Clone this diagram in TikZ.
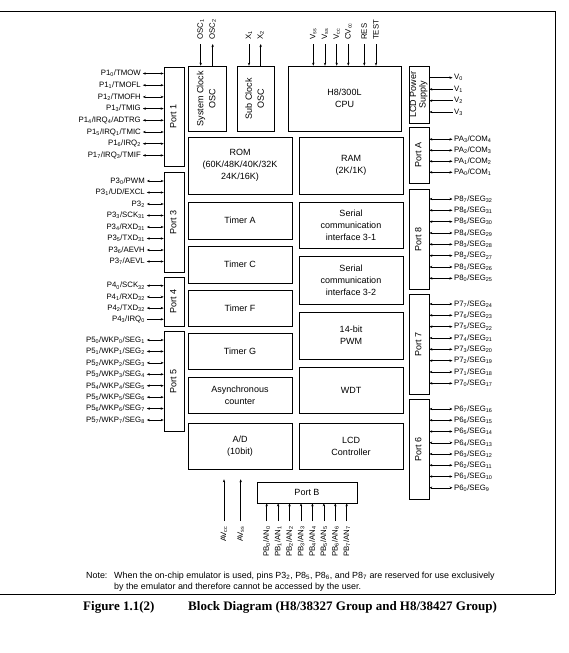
\documentclass[tikz,border=0pt]{standalone}
\usepackage{fontspec}
\usepackage{graphicx}
\setmainfont{Liberation Sans}
\newfontfamily\capfont{Liberation Serif}
\usetikzlibrary{arrows.meta}
\tikzset{
  blk/.style={draw, line width=0.6pt, inner sep=0pt, align=center, font=\fontsize{9}{12}\selectfont},
  pin/.style={font=\fontsize{7.8}{9}\selectfont, inner sep=0pt},
  bi/.style={{Stealth[length=3pt,width=2.4pt]}-{Stealth[length=3pt,width=2.4pt]}, line width=0.5pt},
  ar/.style={-{Stealth[length=3pt,width=2.4pt]}, line width=0.5pt},
  arl/.style={{Stealth[length=3pt,width=2.4pt]}-, line width=0.5pt},
  frame/.style={line width=0.8pt},
  notetext/.style={anchor=base west, inner sep=0pt, font=\fontsize{8.9}{10}\selectfont},
}
\newcommand\bx[6]{\node[blk, minimum width={(#4-#2)*1pt}, minimum height={(#5-#3)*1pt}] (#1) at ({(#2+#4)/2},{(#3+#5)/2}) {#6};}
\newcommand\rtxt[1]{\rotatebox{90}{\begin{tabular}{@{}c@{}}#1\end{tabular}}}
\newcommand\lpinx{145}
\newcommand\lpin[5][bi]{\node[pin,anchor=east] (#2) at (\lpinx,#4) {#5};\draw[#1] ([xshift=1.8pt]#2.east) -- (#2.east -| #3.west);}
\newcommand\rpin[5][bi]{\node[pin,anchor=west] (#2) at (454,#4) {#5};\draw[#1] (#3.east |- #2.west) -- ([xshift=-1.5pt]#2.west);}
\newcommand\tpin[5][ar]{\node[pin,rotate=90,anchor=west] (#2) at (#4,40) {#5};\draw[#1] ([yshift=-4pt]#2.west) -- (#2.west |- #3.north);}
\newcommand\bpin[5][ar]{\node[pin,rotate=90,anchor=east] (#2) at (#4,526) {#5};\draw[#1] ([yshift=5pt]#2.east) -- (#2.east |- #3.south);}
\newcommand\sbs[1]{\textsubscript{#1}}
\begin{document}
\begin{tikzpicture}[x=1pt,y=-1pt]
\useasboundingbox (0,0) rectangle (568,653);
\fill[white] (0,0) rectangle (568,653);
% frame
\draw[frame] (0,11) -- (555,11) -- (555,594);
\draw[frame] (0,594) -- (555,594);
% blocks
\bx{port1}{164}{67}{184}{166}{\rtxt{Port 1}}
\bx{sysosc}{188}{66}{226}{131}{\rtxt{System Clock\\OSC}}
\bx{subosc}{237}{66}{274}{131}{\rtxt{Sub Clock\\OSC}}
\bx{cpu}{288}{66}{401}{131}{H8/300L\\CPU}
\node[blk, minimum width=20pt, minimum height=57pt, font=\fontsize{9}{9.5}\selectfont] (lcdps) at (419,94.5) {\rtxt{LCD Power\\Supply}};
\bx{portA}{409}{127}{429}{183}{\rtxt{Port A}}
\bx{port8}{409}{189}{429}{289}{\rtxt{Port 8}}
\bx{port7}{409}{294}{429}{394}{\rtxt{Port 7}}
\bx{port6}{409}{399}{429}{499}{\rtxt{Port 6}}
\bx{rom}{188}{137}{292}{194}{ROM\\(60K/48K/40K/32K\\24K/16K)}
\bx{ram}{299}{137}{403}{194}{RAM\\(2K/1K)}
\bx{tima}{188}{202}{292}{239}{Timer A}
\bx{timc}{188}{246}{292}{283}{Timer C}
\bx{timf}{188}{290}{292}{326}{Timer F}
\bx{timg}{188}{333}{292}{369}{Timer G}
\bx{async}{188}{377}{292}{413}{Asynchronous\\counter}
\bx{ad}{188}{423}{292}{469}{A/D\\(10bit)}
\bx{sci1}{299}{202}{403}{248}{Serial\\communication\\interface 3-1}
\bx{sci2}{299}{256}{403}{304}{Serial\\communication\\interface 3-2}
\bx{pwm}{299}{312}{403}{359}{14-bit\\PWM}
\bx{wdt}{299}{367}{403}{413}{WDT}
\bx{lcdc}{299}{423}{403}{469}{LCD\\Controller}
\bx{port3}{164}{172}{184}{272}{\rtxt{Port 3}}
\bx{port4}{164}{277}{184}{326}{\rtxt{Port 4}}
\bx{port5}{164}{331}{184}{431}{\rtxt{Port 5}}
\bx{portB}{257}{482}{357}{503}{Port B}
% port 1
\renewcommand\lpinx{141}
\lpin{p10}{port1}{73.5}{P1\sbs{0}/TMOW}
\lpin{p11}{port1}{85.2}{P1\sbs{1}/TMOFL}
\lpin{p12}{port1}{96.9}{P1\sbs{2}/TMOFH}
\lpin{p13}{port1}{108.6}{P1\sbs{3}/TMIG}
\lpin{p14}{port1}{120.3}{P1\sbs{4}/IRQ\sbs{4}/ADTRG}
\lpin{p15}{port1}{132}{P1\sbs{5}/IRQ\sbs{1}/TMIC}
\lpin{p16}{port1}{143.7}{P1\sbs{6}/IRQ\sbs{2}}
\lpin{p17}{port1}{155.4}{P1\sbs{7}/IRQ\sbs{3}/TMIF}
\renewcommand\lpinx{145}
% port 3
\lpin{p30}{port3}{181}{P3\sbs{0}/PWM}
\lpin{p31}{port3}{192.5}{P3\sbs{1}/UD/EXCL}
\lpin{p32}{port3}{204}{P3\sbs{2}}
\lpin{p33}{port3}{215.5}{P3\sbs{3}/SCK\sbs{31}}
\lpin{p34}{port3}{227}{P3\sbs{4}/RXD\sbs{31}}
\lpin{p35}{port3}{238.5}{P3\sbs{5}/TXD\sbs{31}}
\lpin{p36}{port3}{250}{P3\sbs{6}/AEVH}
\lpin{p37}{port3}{261.5}{P3\sbs{7}/AEVL}
% port 4
\lpin{p40}{port4}{285.7}{P4\sbs{0}/SCK\sbs{32}}
\lpin{p41}{port4}{296.9}{P4\sbs{1}/RXD\sbs{32}}
\lpin{p42}{port4}{308.1}{P4\sbs{2}/TXD\sbs{32}}
\lpin[ar]{p43}{port4}{319.3}{P4\sbs{3}/IRQ\sbs{0}}
% port 5
\foreach \i in {0,...,7}{%
  \pgfmathsetmacro\yy{340+11.43*\i}\pgfmathtruncatemacro\s{\i+1}%
  \lpin{p5\i}{port5}{\yy}{P5\sbs{\i}/WKP\sbs{\i}/SEG\sbs{\s}}}
% LCD power supply
\rpin[ar]{v0}{lcdps}{77.7}{V\sbs{0}}
\rpin[arl]{v1}{lcdps}{89.3}{V\sbs{1}}
\rpin[arl]{v2}{lcdps}{100.7}{V\sbs{2}}
\rpin[arl]{v3}{lcdps}{112}{V\sbs{3}}
% port A
\foreach \i in {0,...,3}{%
  \pgfmathsetmacro\yy{139.3+11*\i}\pgfmathtruncatemacro\n{3-\i}\pgfmathtruncatemacro\c{4-\i}%
  \rpin{pa\n}{portA}{\yy}{PA\sbs{\n}/COM\sbs{\c}}}
% port 8
\foreach \i in {0,...,7}{%
  \pgfmathsetmacro\yy{199+11.33*\i}\pgfmathtruncatemacro\n{7-\i}\pgfmathtruncatemacro\c{32-\i}%
  \rpin{p8\n}{port8}{\yy}{P8\sbs{\n}/SEG\sbs{\c}}}
% port 7
\foreach \i in {0,...,7}{%
  \pgfmathsetmacro\yy{304+11.33*\i}\pgfmathtruncatemacro\n{7-\i}\pgfmathtruncatemacro\c{24-\i}%
  \rpin{p7\n}{port7}{\yy}{P7\sbs{\n}/SEG\sbs{\c}}}
% port 6
\foreach \i in {0,...,7}{%
  \pgfmathsetmacro\yy{409+11.25*\i}\pgfmathtruncatemacro\n{7-\i}\pgfmathtruncatemacro\c{16-\i}%
  \rpin{p6\n}{port6}{\yy}{P6\sbs{\n}/SEG\sbs{\c}}}
% top pins
\tpin{osc1}{sysosc}{200.7}{OSC\sbs{1}}
\tpin[arl]{osc2}{sysosc}{212.7}{OSC\sbs{2}}
\tpin{x1}{subosc}{249}{X\sbs{1}}
\tpin[arl]{x2}{subosc}{260.7}{X\sbs{2}}
\tpin{vssa}{cpu}{313.3}{V\sbs{ss}}
\tpin{vssb}{cpu}{325}{V\sbs{ss}}
\tpin{vcc}{cpu}{336.7}{V\sbs{cc}}
\tpin{cvcc}{cpu}{348.3}{CV\sbs{cc}}
\tpin{res}{cpu}{364.3}{RES}
\tpin{test}{cpu}{376}{TEST}
% bottom pins
\bpin[ar,shorten >=10pt]{avcc}{ad}{224}{AV\sbs{cc}}
\bpin[ar,shorten >=10pt]{avss}{ad}{240.7}{AV\sbs{ss}}
\foreach \i in {0,...,7}{%
  \pgfmathsetmacro\xx{266.7+11.43*\i}%
  \bpin{pb\i}{portB}{\xx}{PB\sbs{\i}/AN\sbs{\i}}}
% note and caption
\node[notetext] (notelbl) at (86,578) {Note:};
\node[notetext] (note1) at (114,578) {When the on-chip emulator is used, pins P3\sbs{2}, P8\sbs{5}, P8\sbs{6}, and P8\sbs{7} are reserved for use exclusively};
\node[notetext] (note2) at (114,589) {by the emulator and therefore cannot be accessed by the user.};
\node[anchor=base west, inner sep=0pt, font=\capfont\bfseries\fontsize{13}{15}\selectfont] (cap) at (83,610) {Figure 1.1(2)\hspace{2.6em}Block Diagram (H8/38327 Group and H8/38427 Group)};
\end{tikzpicture}
\end{document}
